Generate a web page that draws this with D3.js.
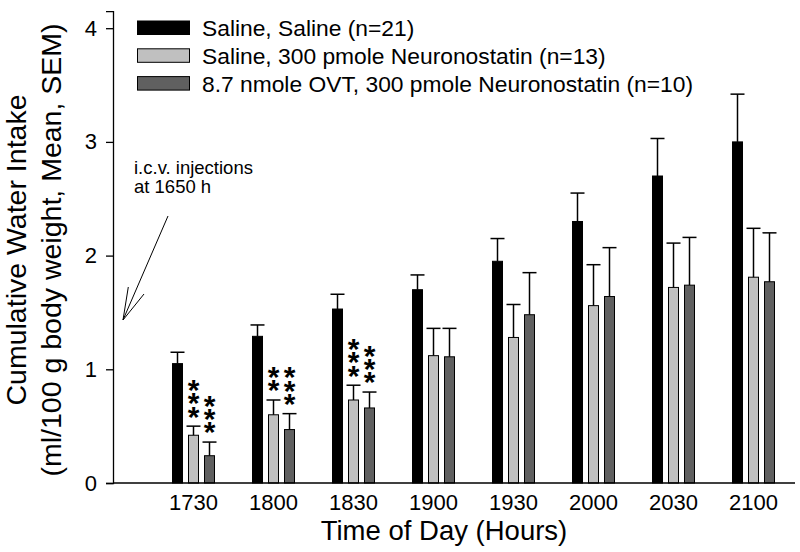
<!DOCTYPE html>
<html><head><meta charset="utf-8">
<script src="https://cdn.jsdelivr.net/npm/d3@7"></script>
<style>
html,body{margin:0;padding:0;background:#fff;}
svg{display:block;font-family:"Liberation Sans",Arial,sans-serif;}
</style></head>
<body><svg id="chart" width="800" height="552"></svg>
<script>
const categories = ["1730","1800","1830","1900","1930","2000","2030","2100"];
const seriesNames = ["Saline, Saline (n=21)","Saline, 300 pmole Neuronostatin (n=13)","8.7 nmole OVT, 300 pmole Neuronostatin (n=10)"];
const salineMean = [1.05,1.29,1.53,1.70,1.95,2.30,2.70,3.00];
const salineSem  = [0.10,0.10,0.13,0.13,0.20,0.25,0.33,0.42];
const nstatMean  = [0.42,0.60,0.73,1.12,1.28,1.56,1.72,1.81];
const nstatSem   = [0.08,0.13,0.13,0.24,0.29,0.36,0.39,0.43];
const ovtMean    = [0.24,0.47,0.66,1.11,1.48,1.64,1.74,1.77];
const ovtSem     = [0.12,0.14,0.14,0.25,0.37,0.43,0.42,0.43];
const yTicks = [0,1,2,3,4];
const colors = ["#000000","#c0c0c0","#606060"];
const significance = [
  {cat:"1730", s:1, label:"***"}, {cat:"1730", s:2, label:"***"},
  {cat:"1800", s:1, label:"**"},  {cat:"1800", s:2, label:"***"},
  {cat:"1830", s:1, label:"***"}, {cat:"1830", s:2, label:"***"}
];
const yTitle = ["Cumulative Water Intake","(ml/100 g body weight, Mean, SEM)"];
const xTitle = "Time of Day (Hours)";
const note = ["i.c.v. injections","at 1650 h"];

const means = [salineMean, nstatMean, ovtMean];
const sems = [salineSem, nstatSem, ovtSem];
const data = [];
categories.forEach((c,i)=>{ for(let s=0;s<3;s++) data.push({cat:c, s, mean:means[s][i], sem:sems[s][i]}); });

const svg = d3.select("#chart");
const axisLeftX = 113, axisY0 = 483;
const x = d3.scaleBand().domain(categories).range([153.5, 793.5]).padding(0);
const xs = d3.scaleBand().domain([0,1,2]).range([-24, 24]).padding(0);
const y = d3.scaleLinear().domain([0,4]).range([axisY0, 28.2]);
const barW = 10, capW = 14;

// bars
svg.append("g").selectAll("rect").data(data).join("rect")
  .attr("x", d => x(d.cat) + x.bandwidth()/2 + xs(d.s) + xs.bandwidth()/2 - barW/2)
  .attr("y", d => y(d.mean))
  .attr("width", barW)
  .attr("height", d => y(0) - y(d.mean))
  .attr("fill", d => colors[d.s])
  .attr("stroke", "#000").attr("stroke-width", 1);

// error bars (upper)
const cx = d => x(d.cat) + x.bandwidth()/2 + xs(d.s) + xs.bandwidth()/2;
const eg = svg.append("g").attr("stroke","#000").attr("stroke-width",1.5);
eg.selectAll("line.v").data(data).join("line").attr("class","v")
  .attr("x1", cx).attr("x2", cx)
  .attr("y1", d => y(d.mean)).attr("y2", d => y(d.mean + d.sem));
eg.selectAll("line.c").data(data).join("line").attr("class","c")
  .attr("x1", d => cx(d) - capW/2).attr("x2", d => cx(d) + capW/2)
  .attr("y1", d => y(d.mean + d.sem)).attr("y2", d => y(d.mean + d.sem));

// significance stars (one text per column, stacked tspans)
significance.forEach(sg => {
  const d = data.find(e => e.cat === sg.cat && e.s === sg.s);
  const base = y(d.mean + d.sem) - 17;
  const n = sg.label.length;
  const t = svg.append("text").attr("text-anchor","middle")
    .attr("font-size", 30).attr("font-weight","bold");
  for (let k = 0; k < n; k++) {
    t.append("tspan").attr("x", cx(d))
      .attr("y", base - (n - 1 - k)*13.3 + 0.58*30)
      .text("*");
  }
});

// y axis
const yAxis = d3.axisLeft(d3.scaleLinear().domain([0,4.15]).range([axisY0, axisY0 - 4.15*113.7]))
  .tickValues(yTicks).tickFormat(d3.format("d")).tickSizeOuter(0).tickSize(7).tickPadding(9);
const yg = svg.append("g").attr("transform", `translate(${axisLeftX},0)`).call(yAxis);
yg.selectAll("text").attr("font-size", 22).attr("font-family","Liberation Sans, Arial, sans-serif").attr("fill","#000");
yg.selectAll("line, path").attr("stroke","#000").attr("stroke-width",1.3);

// x axis
svg.append("line").attr("x1", axisLeftX).attr("x2", 795).attr("y1", axisY0).attr("y2", axisY0)
  .attr("stroke","#000").attr("stroke-width",1.3);
const xAxis = d3.axisBottom(x).tickSize(0).tickPadding(11);
const xg = svg.append("g").attr("transform", `translate(0,${axisY0})`).call(xAxis);
xg.select(".domain").remove();
xg.selectAll("text").attr("font-size", 22).attr("font-family","Liberation Sans, Arial, sans-serif").attr("fill","#000");

// titles
svg.append("text").attr("x", 444).attr("y", 540).attr("text-anchor","middle")
  .attr("font-size", 27.5).text(xTitle);
yTitle.forEach((t,i) => {
  svg.append("text").attr("transform", `translate(${26 + i*35},250) rotate(-90)`)
    .attr("text-anchor","middle").attr("font-size", 28.5).text(t);
});

// legend
const lg = svg.append("g");
seriesNames.forEach((n,i) => {
  const yy = 21 + i*27.8;
  lg.append("rect").attr("x",137.5).attr("y",yy).attr("width",52).attr("height",13.5)
    .attr("fill",colors[i]).attr("stroke","#000").attr("stroke-width",1);
  lg.append("text").attr("x",202).attr("y",yy+6.75).attr("dy","0.36em")
    .attr("font-size",22.8).text(n);
});

// annotation
note.forEach((t,i) => {
  svg.append("text").attr("x",134).attr("y",174 + i*18.5).attr("font-size",18.5).text(t);
});
const ag = svg.append("g").attr("stroke","#000").attr("stroke-width",1).attr("fill","none");
ag.append("line").attr("x1",168).attr("y1",216).attr("x2",123).attr("y2",320);
ag.append("line").attr("x1",128.3).attr("y1",287).attr("x2",123).attr("y2",320);
ag.append("line").attr("x1",144).attr("y1",294).attr("x2",123).attr("y2",320);
</script></body></html>
